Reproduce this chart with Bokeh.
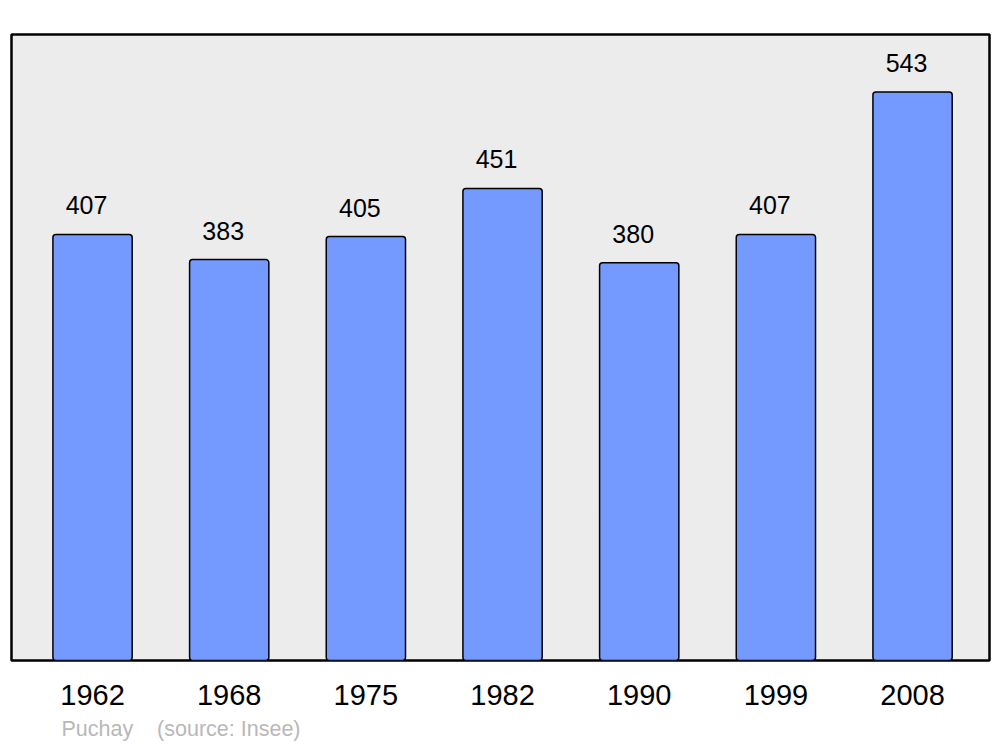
from bokeh.plotting import figure
from bokeh.models import ColumnDataSource, LabelSet, Title, FixedTicker, Range1d
from bokeh.core.properties import value
from bokeh.embed import file_html
from bokeh.resources import INLINE

years = ["1962", "1968", "1975", "1982", "1990", "1999", "2008"]
population = [407, 383, 405, 451, 380, 407, 543]
footer = "Puchay\u00a0\u00a0\u00a0 (source: Insee)"

idx = list(range(len(years)))
src = ColumnDataSource(dict(x=idx, top=population, lab=[str(v) for v in population]))

p = figure(width=1000, height=747, output_backend="svg", toolbar_location=None,
           x_range=Range1d(-0.593, 6.563), y_range=Range1d(0, 598),
           min_border_left=11, min_border_right=11, min_border_top=34, min_border_bottom=87)
p.background_fill_color = "#ececec"
p.border_fill_color = "white"
p.outline_line_color = "black"
p.outline_line_width = 2.5
p.xgrid.visible = False
p.ygrid.visible = False
p.yaxis.visible = False

p.vbar(x="x", top="top", bottom=0, width=0.58, source=src,
       fill_color="#7499ff", line_color="black", line_width=1.5, border_radius=3)

labels = LabelSet(x="x", y="top", text="lab", source=src, x_offset=-6, y_offset=20,
                  text_align="center", text_baseline="alphabetic",
                  text_font=value("Liberation Sans"), text_font_size=value("25px"),
                  text_color="black")
p.add_layout(labels)

ax = p.xaxis[0]
ax.ticker = FixedTicker(ticks=idx)
ax.major_label_overrides = {i: y for i, y in zip(idx, years)}
ax.axis_line_color = None
ax.major_tick_line_color = None
ax.minor_tick_line_color = None
ax.major_tick_out = 0
ax.major_tick_in = 0
ax.major_label_standoff = 24
ax.major_label_text_font = "Liberation Sans"
ax.major_label_text_font_size = "29px"
ax.major_label_text_color = "black"

t = Title(text=footer, align="left", offset=50, text_font="Liberation Sans",
          text_font_size="21.5px", text_font_style="normal", text_color="#b8b8b8",
          standoff=14)
p.add_layout(t, "below")

open("out.html", "w").write(file_html(p, INLINE))
